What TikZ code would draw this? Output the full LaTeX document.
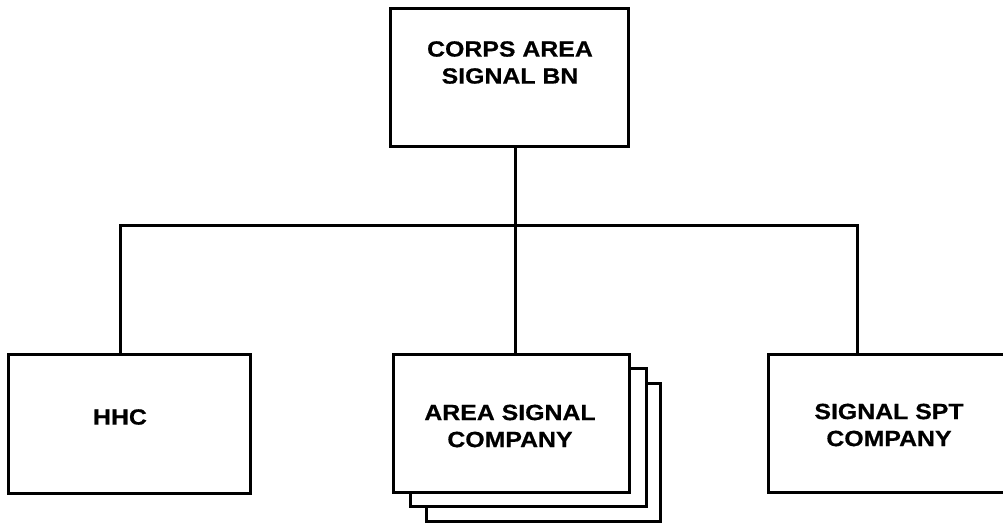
\documentclass[tikz,border=0pt]{standalone}
\usepackage{fontspec}
\setmainfont{Liberation Sans}[FakeStretch=1.13,BoldFeatures={FakeBold=0.6}]
\begin{document}
\begin{tikzpicture}[x=1pt,y=-1pt,
  unitbox/.style={draw=black,line width=3pt,fill=white,inner sep=0pt,minimum width=238pt,minimum height=138pt},
  lbl/.style={font=\fontsize{22}{27}\selectfont\bfseries,align=center,inner sep=0pt},
  conn/.style={draw=black,line width=3pt}]
\useasboundingbox (0,0) rectangle (1003,530);
\fill[white] (0,0) rectangle (1003,530);
% top box
\node[unitbox] (top) at (509,77.5) {};
\node[lbl] (toplbl) at (510,62.5) {CORPS AREA\\SIGNAL BN};
% left box
\node[unitbox,minimum width=242pt,minimum height=139pt] (hhc) at (129,423.5) {};
\node[lbl] (hhclbl) at (120,417) {HHC};
% middle stacked boxes
\node[unitbox,minimum width=234pt] (mid3) at (543,452) {};
\node[unitbox,minimum width=236pt] (mid2) at (528,437) {};
\node[unitbox,minimum width=236pt] (mid) at (511,423) {};
\node[lbl] (midlbl) at (510,426) {AREA SIGNAL\\COMPANY};
% right box
\node[unitbox] (spt) at (887,423) {};
\node[lbl] (sptlbl) at (889,425) {SIGNAL SPT\\COMPANY};
% connectors
\coordinate (bus) at (515,225);
\coordinate (bl) at (120,225);
\coordinate (br) at (857,225);
\draw[conn] (top.south -| bus) -- (mid.north -| bus);
\draw[conn] (hhc.north -| bl) -- (bl) -- (br) -- (spt.north -| br);
\end{tikzpicture}
\end{document}
